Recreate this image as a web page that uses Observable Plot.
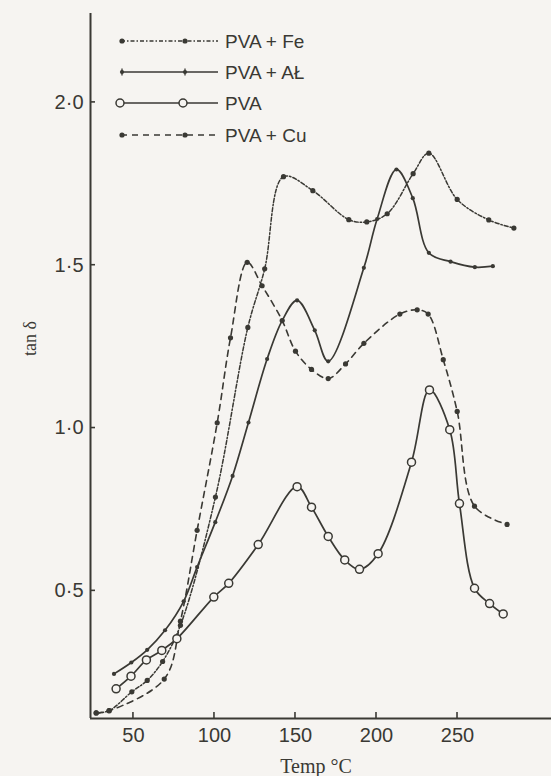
<!DOCTYPE html>
<html><head><meta charset="utf-8">
<script src="https://cdn.jsdelivr.net/npm/d3@7"></script>
<script src="https://cdn.jsdelivr.net/npm/@observablehq/plot@0.6"></script>
<style>
html,body{margin:0;padding:0;background:#f6f4f1;}
#chart{width:551px;height:776px;overflow:hidden;}
</style></head><body><div id="chart"></div>
<script>
// ---- data ----
const seriesNames = ["PVA + Fe", "PVA + AŁ", "PVA", "PVA + Cu"];

const feTemp = [27, 35, 49, 58.5, 68, 79, 100.6, 120.6, 131, 142.6, 160.7, 182.9, 194, 206.6, 222.6, 232.3, 249.8, 269.3, 284.8];
const feTan  = [0.125, 0.132, 0.19, 0.225, 0.283, 0.394, 0.788, 1.309, 1.489, 1.772, 1.729, 1.640, 1.633, 1.658, 1.781, 1.844, 1.702, 1.639, 1.614];

const alTemp = [38, 48.7, 58.5, 69.5, 81, 89.3, 100.5, 111.2, 121, 132.5, 141.8, 151, 161.9, 170.2, 192.2, 200.4, 212.3, 222.4, 232.3, 245.7, 260.7, 271.8];
const alTan  = [0.245, 0.28, 0.319, 0.379, 0.468, 0.573, 0.711, 0.853, 1.017, 1.212, 1.33, 1.392, 1.30, 1.205, 1.492, 1.642, 1.794, 1.706, 1.538, 1.511, 1.494, 1.497];

const pvaTemp = [39.3, 48.5, 58, 67.5, 76.8, 99.6, 108.8, 127, 151, 159.9, 170.2, 180.4, 189.5, 201, 221.6, 232.7, 245.2, 251.2, 260.5, 269.8, 278.2];
const pvaTan  = [0.199, 0.238, 0.288, 0.317, 0.353, 0.481, 0.523, 0.642, 0.82, 0.757, 0.667, 0.595, 0.566, 0.614, 0.895, 1.117, 0.995, 0.768, 0.508, 0.461, 0.429];

const cuTemp = [27, 35, 69, 79, 89.3, 101.7, 109.9, 120.2, 129.4, 141.8, 150, 159.9, 170.2, 180.9, 192.2, 214.4, 225.1, 231.9, 241.2, 249.8, 260.5, 280.6];
const cuTan  = [0.125, 0.132, 0.229, 0.407, 0.686, 1.016, 1.277, 1.509, 1.437, 1.33, 1.236, 1.18, 1.152, 1.197, 1.26, 1.35, 1.363, 1.35, 1.21, 1.051, 0.76, 0.704];

const xTicks = [50, 100, 150, 200, 250];
const yTicks = [0.5, 1.0, 1.5, 2.0];

// ---- build tables ----
function rows(name, xs, ys) { return xs.map((t, i) => ({series: name, temp: t, tan: ys[i]})); }
const fe = rows(seriesNames[0], feTemp, feTan);
const al = rows(seriesNames[1], alTemp, alTan);
const pva = rows(seriesNames[2], pvaTemp, pvaTan);
const cu = rows(seriesNames[3], cuTemp, cuTan);

const ink = "#3a3934";
const paper = "#f6f4f1";
const xDomain = [23.5, 308];
const yDomain = [0.108, 2.273];
const feDash = "4,2,1.5,2";
const cuDash = "6,5";
const sans = "'Liberation Sans', Arial, sans-serif";
const serif = "'Liberation Serif', 'Times New Roman', serif";

const plot = Plot.plot({
  width: 551, height: 776,
  marginLeft: 90, marginRight: 0, marginTop: 13, marginBottom: 58,
  x: {domain: xDomain},
  y: {domain: yDomain},
  style: {background: paper, color: ink, fontFamily: sans},
  marks: [
    Plot.ruleX([xDomain[0]], {stroke: ink, strokeWidth: 2}),
    Plot.ruleY([yDomain[0]], {stroke: ink, strokeWidth: 2}),
    Plot.axisX({ticks: xTicks, tickSize: 0, tickPadding: 9, label: null, fontSize: 20, fill: ink}),
    Plot.axisY({ticks: yTicks, tickSize: 0, tickPadding: 7, label: null, fontSize: 20, fill: ink,
      tickFormat: d => d.toFixed(1).replace(".", "·")}),
    Plot.text(["Temp °C"], {frameAnchor: "bottom", lineAnchor: "top", dy: 40, dx: -5,
      fontFamily: serif, fontSize: 20, fill: ink}),
    Plot.text(["tan δ"], {frameAnchor: "left", rotate: -90, dx: -60, dy: -10,
      fontFamily: serif, fontSize: 18, fill: ink}),

    Plot.line(fe, {x: "temp", y: "tan", curve: "catmull-rom", stroke: ink, strokeWidth: 1.5, strokeDasharray: feDash}),
    Plot.line(cu, {x: "temp", y: "tan", curve: "catmull-rom", stroke: ink, strokeWidth: 1.6, strokeDasharray: cuDash}),
    Plot.line(al, {x: "temp", y: "tan", curve: "catmull-rom", stroke: ink, strokeWidth: 1.7}),
    Plot.line(pva, {x: "temp", y: "tan", curve: "catmull-rom", stroke: ink, strokeWidth: 1.7}),

    Plot.dot(fe, {x: "temp", y: "tan", r: 2.6, fill: ink}),
    Plot.dot(cu, {x: "temp", y: "tan", r: 2.6, fill: ink}),
    Plot.dot(al, {x: "temp", y: "tan", r: 2.1, fill: ink}),
    Plot.dot(pva, {x: "temp", y: "tan", r: 4, fill: paper, stroke: ink, strokeWidth: 1.5})
  ]
});

const svg = d3.select(plot);
const sx = plot.scale("x"), sy = plot.scale("y");
const x0 = sx.apply(xDomain[0]), y0 = sy.apply(yDomain[0]);

// inward tick marks, placed with Plot's own scales
const tg = svg.append("g").attr("stroke", ink).attr("stroke-width", 1.6);
xTicks.forEach(t => {
  const px = sx.apply(t);
  tg.append("line").attr("x1", px).attr("x2", px).attr("y1", y0).attr("y2", y0 - 6);
});
yTicks.forEach(t => {
  const py = sy.apply(t);
  tg.append("line").attr("x1", x0).attr("x2", x0 + 5).attr("y1", py).attr("y2", py);
});

// ---- legend (inside the plot, top-left) ----
const lg = svg.append("g").attr("class", "legend");
const legendRows = [
  {name: seriesNames[0], dash: feDash, kind: "dot", y: 41},
  {name: seriesNames[1], dash: null, kind: "small", y: 72},
  {name: seriesNames[2], dash: null, kind: "ring", y: 103},
  {name: seriesNames[3], dash: cuDash, kind: "dot", y: 135}
];
legendRows.forEach(r => {
  const g = lg.append("g").attr("transform", `translate(0,${r.y})`);
  g.append("line").attr("x1", 121).attr("x2", 218).attr("y1", 0).attr("y2", 0)
    .attr("stroke", ink).attr("stroke-width", 1.5).attr("stroke-dasharray", r.dash);
  [122, 185].forEach(cx => {
    if (r.kind === "ring") {
      g.append("circle").attr("cx", cx - 2).attr("cy", 0).attr("r", 4)
        .attr("fill", paper).attr("stroke", ink).attr("stroke-width", 1.5);
    } else {
      g.append("circle").attr("cx", cx).attr("cy", 0).attr("r", r.kind === "small" ? 2.1 : 2.6).attr("fill", ink);
      if (r.kind === "small") g.append("line").attr("x1", cx).attr("x2", cx).attr("y1", -3.5).attr("y2", 3.5)
        .attr("stroke", ink).attr("stroke-width", 1.3);
    }
  });
  g.append("text").attr("x", 225).attr("y", 7).attr("fill", ink)
    .attr("text-anchor", "start")
    .attr("font-family", sans).attr("font-size", 19)
    .text(r.name);
});

document.getElementById("chart").appendChild(plot);
</script>
</body></html>
